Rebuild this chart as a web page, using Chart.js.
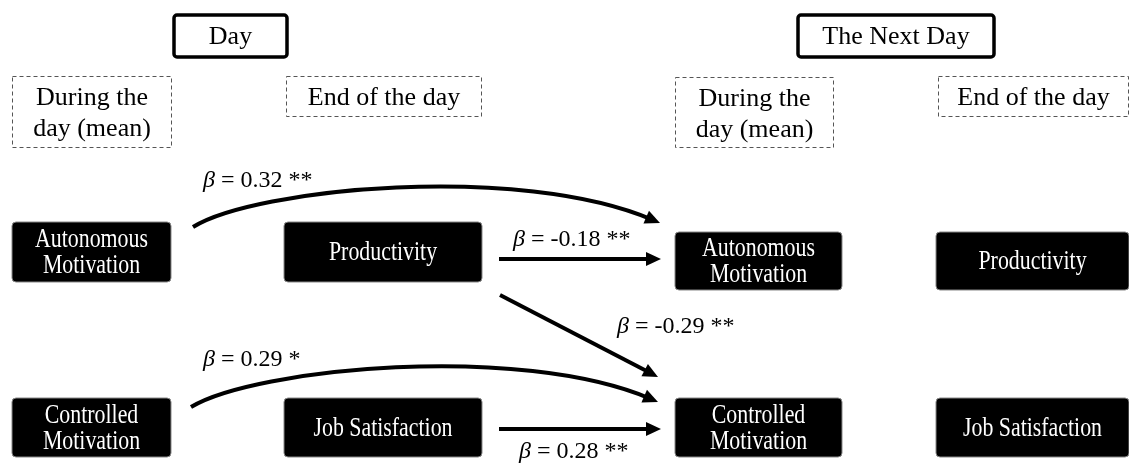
<!DOCTYPE html>
<html>
<head>
<meta charset="utf-8">
<script src="https://cdn.jsdelivr.net/npm/chart.js@4"></script>
<style>
html,body{margin:0;padding:0;background:#fff}
#wrap{width:1129px;height:463px}
</style>
</head>
<body>
<div id="wrap"><canvas id="chart" width="1129" height="463"></canvas></div>
<script>
// diagram content
const periods = ["Day", "The Next Day"]
const phases = ["During the\nday (mean)", "End of the day"]
const duringVars = ["Autonomous\nMotivation", "Controlled\nMotivation"]
const endVars = ["Productivity", "Job Satisfaction"]

// paths: from [col,row] -> to [col,row], coefficient, significance
const pathFrom = [[0,0], [1,0], [1,0], [0,1], [1,1]]
const pathTo = [[2,0], [2,0], [2,1], [2,1], [2,1]]
const betas = [0.32, -0.18, -0.29, 0.29, 0.28]
const stars = ["**", "**", "**", "*", "**"]

// layout (data units = px of the 1129x463 frame)
const colX = [[12,171], [284,482], [675,842], [936,1129]]
const rowY = [[[222,282],[398,457]], [[232,290],[398,457]]]   // per period
const periodBox = [[174,287], [798,994]]
const phaseBox = [[[12,172,76,148],[286,482,76,117]], [[675,834,77,148],[938,1129,76,117]]]
// arrow geometry per path
const arrowGeom = [
  {curve:true, p:[[193,227],[255,188],[520,163],[660,223]]},
  {curve:false, p:[[499,259],[661,259]]},
  {curve:false, p:[[500,295],[658,377]]},
  {curve:true, p:[[191,407],[255,368],[520,343],[658,402]]},
  {curve:false, p:[[499,429],[661,429]]}
]
const labelPos = [[203,181], [513,240], [617,327], [203,360], [519,452]]

const serif = '"Liberation Serif", "Times New Roman", serif'

const diagram = {
  id: 'diagram',
  afterDraw(chart){
    const ctx = chart.ctx
    const sx = v => chart.scales.x.getPixelForValue(v)
    const sy = v => chart.scales.y.getPixelForValue(v)

    function rrect(x0,y0,x1,y1,r){
      ctx.beginPath()
      ctx.roundRect(sx(x0), sy(y0), sx(x1)-sx(x0), sy(y1)-sy(y0), r)
    }
    function lines(text, cx, cy, lh, squeeze){
      const parts = text.split("\n")
      parts.forEach((t,i)=>{
        ctx.save()
        ctx.translate(cx, cy + (i-(parts.length-1)/2)*lh)
        ctx.scale(squeeze || 1, 1)
        ctx.fillText(t, 0, 0)
        ctx.restore()
      })
    }

    ctx.save()
    ctx.textAlign = 'center'
    ctx.textBaseline = 'middle'

    // period headers
    periods.forEach((p,i)=>{
      const [a,b] = periodBox[i]
      rrect(a,15,b,57,3)
      ctx.lineWidth = 3.5
      ctx.strokeStyle = '#000'
      ctx.stroke()
      ctx.fillStyle = '#000'
      ctx.font = '26px ' + serif
      ctx.fillText(p, (sx(a)+sx(b))/2, sy(37))
    })

    // phase headers (dashed)
    phaseBox.forEach(per=>{
      per.forEach((bx,j)=>{
        ctx.setLineDash([4,3])
        ctx.lineWidth = 1
        ctx.strokeStyle = '#555'
        ctx.strokeRect(sx(bx[0])+0.5, sy(bx[2])+0.5, sx(bx[1])-sx(bx[0])-1, sy(bx[3])-sy(bx[2])-1)
        ctx.setLineDash([])
        ctx.fillStyle = '#000'
        ctx.font = '26px ' + serif
        lines(phases[j], (sx(bx[0])+sx(bx[1]))/2, (sy(bx[2])+sy(bx[3]))/2 + 2, 31)
      })
    })

    // variable nodes
    for(let per=0; per<2; per++){
      for(let r=0; r<2; r++){
        [duringVars[r], endVars[r]].forEach((label,k)=>{
          const [x0,x1] = colX[per*2+k]
          const [y0,y1] = rowY[per][r]
          rrect(x0,y0,x1,y1,4)
          ctx.fillStyle = '#000'
          ctx.fill()
          ctx.lineWidth = 1
          ctx.strokeStyle = '#888'
          ctx.stroke()
          ctx.fillStyle = '#fff'
          ctx.font = '27px ' + serif
          lines(label, (sx(x0)+sx(x1))/2, (sy(y0)+sy(y1))/2 + 1, 26, 0.81)
        })
      }
    }

    // paths
    ctx.strokeStyle = '#000'
    ctx.fillStyle = '#000'
    ctx.lineWidth = 4
    ctx.lineCap = 'butt'
    arrowGeom.forEach((g,i)=>{
      const pts = g.p.map(q=>[sx(q[0]), sy(q[1])])
      const tip = pts[pts.length-1]
      const prev = pts[pts.length-2]
      let dx = tip[0]-prev[0], dy = tip[1]-prev[1]
      const d = Math.hypot(dx,dy); dx/=d; dy/=d
      const len = 15, hw = 7
      ctx.beginPath()
      ctx.moveTo(pts[0][0], pts[0][1])
      if(g.curve){
        ctx.bezierCurveTo(pts[1][0],pts[1][1],pts[2][0],pts[2][1],tip[0]-dx*8,tip[1]-dy*8)
      } else {
        ctx.lineTo(tip[0]-dx*8, tip[1]-dy*8)
      }
      ctx.stroke()
      ctx.beginPath()
      ctx.moveTo(tip[0], tip[1])
      ctx.lineTo(tip[0]-dx*len - dy*hw, tip[1]-dy*len + dx*hw)
      ctx.lineTo(tip[0]-dx*len + dy*hw, tip[1]-dy*len - dx*hw)
      ctx.closePath()
      ctx.fill()

      // coefficient label
      const [lx,ly] = labelPos[i]
      ctx.textAlign = 'left'
      ctx.font = 'italic 24px ' + serif
      ctx.fillText('\u03b2', sx(lx), sy(ly))
      const w = ctx.measureText('\u03b2').width
      ctx.font = '24px ' + serif
      ctx.fillText(' = ' + betas[i].toFixed(2) + ' ' + stars[i], sx(lx)+w, sy(ly))
      ctx.textAlign = 'center'
    })
    ctx.restore()
  }
}

new Chart(document.getElementById('chart'), {
  type: 'scatter',
  data: {datasets: []},
  options: {
    responsive: false,
    animation: false,
    layout: {padding: 0},
    plugins: {legend: {display: false}, tooltip: {enabled: false}},
    scales: {
      x: {type: 'linear', min: 0, max: 1129, display: false},
      y: {type: 'linear', min: 0, max: 463, reverse: true, display: false}
    }
  },
  plugins: [diagram]
})
</script>
</body>
</html>
